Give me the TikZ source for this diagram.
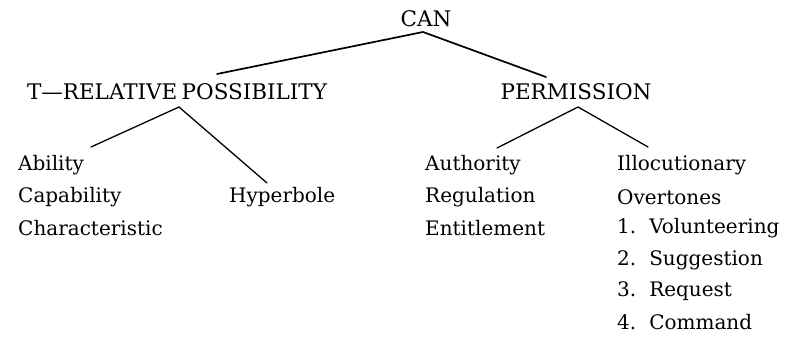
\documentclass[tikz,border=0pt]{standalone}
\usepackage{fontspec}
\setmainfont{DejaVu Serif}
\begin{document}
\begin{tikzpicture}[x=1pt,y=-1pt,
  lbl/.style={anchor=west,inner sep=0pt,font=\fontsize{20}{24}\selectfont},
  head/.style={anchor=center,inner sep=0pt,font=\fontsize{21.5}{26}\selectfont},
  branch/.style={line width=1.3pt,line cap=round}]
\newcommand\itemno[1]{#1\hspace{0.65em}}
\useasboundingbox (0,0) rectangle (805,337);
% top node and the two senses
\node[head] (can) at (426,19) {CAN};
\node[head] (trp) at (177,92) {T---RELATIVE\hspace{0.2em}POSSIBILITY};
\node[head] (perm) at (576,92) {PERMISSION};
% apexes and branch ends
\coordinate (canA) at (423,32);
\coordinate (canL) at (217,74);
\coordinate (canR) at (546,77);
\coordinate (trpA) at (179,107);
\coordinate (trpL) at (91,147);
\coordinate (trpR) at (267,183);
\coordinate (permA) at (578,107);
\coordinate (permL) at (497,148);
\coordinate (permR) at (648,147);
% leaves
\node[lbl] (abil) at (18,165) {Ability};
\node[lbl] (capa) at (18,197) {Capability};
\node[lbl] (char) at (18,228) {Characteristic};
\node[lbl] (hyp) at (229,197) {Hyperbole};
\node[lbl] (auth) at (425,165) {Authority};
\node[lbl] (reg) at (425,197) {Regulation};
\node[lbl] (ent) at (425,228) {Entitlement};
\node[lbl] (illo) at (617,165) {Illocutionary};
\node[lbl] (over) at (617,197) {Overtones};
\node[lbl] (vol) at (617,228) {\itemno{1.}Volunteering};
\node[lbl] (sug) at (617,260) {\itemno{2.}Suggestion};
\node[lbl] (req) at (617,291) {\itemno{3.}Request};
\node[lbl] (com) at (617,322) {\itemno{4.}Command};
% branches
\draw[branch,line width=1.7pt] (canL) -- (canA) -- (canR);
\draw[branch] (trpL) -- (trpA) -- (trpR);
\draw[branch] (permL) -- (permA) -- (permR);
\end{tikzpicture}
\end{document}
